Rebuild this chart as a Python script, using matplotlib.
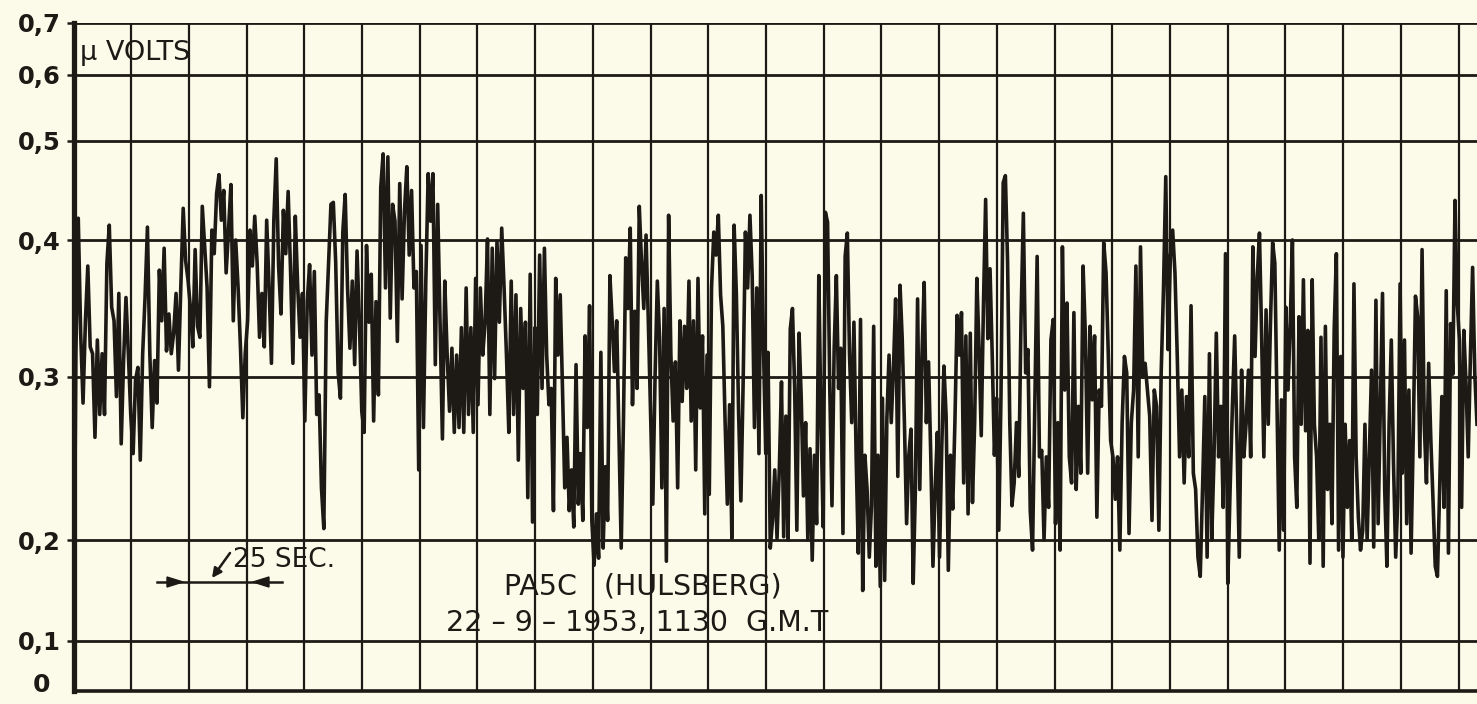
import numpy as np
import matplotlib
matplotlib.use("Agg")
import matplotlib.pyplot as plt
from matplotlib.patches import Polygon

# ---------------- data (µV readings) ----------------
# the recording is split into six consecutive stretches; each stretch covers
# the time span (in grid divisions) given in seg_edges
seg_edges = [0.0, 4.05, 8.16, 12.23, 16.30, 20.36, 24.32]

trace_a = [0.0, 0.317, 0.422, 0.332, 0.284, 0.341, 0.381, 0.322, 0.317, 0.263, 0.327, 0.277, 0.317, 0.277,
           0.383, 0.415, 0.351, 0.341, 0.288, 0.361, 0.259, 0.312, 0.358, 0.317, 0.277, 0.253, 0.298, 0.307,
           0.249, 0.317, 0.358, 0.413, 0.317, 0.269, 0.312, 0.284, 0.378, 0.341, 0.394, 0.319, 0.346, 0.317,
           0.332, 0.361, 0.305, 0.366, 0.432, 0.385, 0.371, 0.351, 0.322, 0.393, 0.337, 0.329, 0.434, 0.395,
           0.366, 0.294, 0.410, 0.390, 0.447, 0.466, 0.420, 0.450, 0.376, 0.410, 0.456, 0.341, 0.400, 0.366,
           0.322, 0.275, 0.317, 0.341, 0.410, 0.381, 0.424, 0.383, 0.329, 0.361, 0.322, 0.420, 0.366, 0.310,
           0.420, 0.482, 0.381, 0.346, 0.430, 0.390, 0.449, 0.378, 0.310, 0.424, 0.366, 0.329, 0.361, 0.273]

trace_b = [0.355, 0.382, 0.316, 0.377, 0.277, 0.289, 0.232, 0.207, 0.340, 0.384, 0.436, 0.438, 0.384, 0.304,
           0.287, 0.408, 0.446, 0.365, 0.321, 0.370, 0.309, 0.392, 0.340, 0.279, 0.266, 0.396, 0.340, 0.375,
           0.273, 0.355, 0.289, 0.453, 0.487, 0.365, 0.484, 0.343, 0.436, 0.419, 0.326, 0.457, 0.357, 0.429,
           0.474, 0.389, 0.450, 0.365, 0.377, 0.243, 0.396, 0.269, 0.370, 0.467, 0.419, 0.467, 0.309, 0.436,
           0.340, 0.262, 0.370, 0.316, 0.279, 0.321, 0.266, 0.316, 0.269, 0.336, 0.266, 0.365, 0.277, 0.336,
           0.266, 0.372, 0.283, 0.365, 0.316, 0.340, 0.401, 0.277, 0.394, 0.299, 0.399, 0.340, 0.412, 0.365,
           0.316, 0.266, 0.370, 0.277, 0.360, 0.249, 0.350, 0.293, 0.340, 0.226, 0.375, 0.211, 0.336, 0.277,
           0.389, 0.293]

trace_c = [0.394, 0.316, 0.283, 0.293, 0.218, 0.372, 0.316, 0.360, 0.293, 0.232, 0.263, 0.218, 0.243, 0.208,
           0.309, 0.222, 0.253, 0.212, 0.330, 0.269, 0.352, 0.212, 0.175, 0.216, 0.182, 0.318, 0.192, 0.245,
           0.212, 0.374, 0.341, 0.304, 0.341, 0.263, 0.192, 0.273, 0.387, 0.350, 0.412, 0.283, 0.348, 0.293,
           0.434, 0.384, 0.350, 0.405, 0.341, 0.277, 0.222, 0.301, 0.370, 0.328, 0.232, 0.350, 0.179, 0.425,
           0.316, 0.273, 0.311, 0.232, 0.341, 0.285, 0.337, 0.293, 0.370, 0.273, 0.341, 0.243, 0.372, 0.281,
           0.330, 0.216, 0.316, 0.228, 0.365, 0.408, 0.389, 0.425, 0.360, 0.337, 0.273, 0.222, 0.283, 0.201,
           0.415, 0.360, 0.277, 0.224, 0.297, 0.408, 0.365, 0.425, 0.374, 0.269, 0.365, 0.253, 0.445, 0.321,
           0.253, 0.318, 0.192, 0.212, 0.243, 0.201]

trace_d = [0.243, 0.297, 0.202, 0.276, 0.200, 0.335, 0.350, 0.293, 0.206, 0.332, 0.287, 0.227, 0.272, 0.200,
           0.256, 0.180, 0.252, 0.210, 0.374, 0.272, 0.208, 0.428, 0.418, 0.293, 0.221, 0.321, 0.374, 0.293,
           0.321, 0.204, 0.388, 0.407, 0.316, 0.272, 0.340, 0.252, 0.187, 0.342, 0.150, 0.252, 0.231, 0.183,
           0.221, 0.337, 0.174, 0.252, 0.154, 0.287, 0.160, 0.274, 0.316, 0.272, 0.306, 0.357, 0.239, 0.367,
           0.328, 0.272, 0.210, 0.252, 0.268, 0.157, 0.231, 0.357, 0.231, 0.316, 0.369, 0.272, 0.311, 0.252,
           0.174, 0.231, 0.266, 0.183, 0.256, 0.308, 0.276, 0.170, 0.252, 0.219, 0.272, 0.345, 0.316, 0.347,
           0.235, 0.330, 0.216, 0.332, 0.223, 0.272, 0.372, 0.321, 0.264, 0.352, 0.441, 0.328, 0.379, 0.316,
           0.252, 0.287, 0.206, 0.289, 0.458, 0.465, 0.384, 0.272, 0.221]

trace_e = [0.235, 0.272, 0.239, 0.344, 0.427, 0.303, 0.320, 0.218, 0.190, 0.282, 0.388, 0.251, 0.255, 0.200,
           0.251, 0.220, 0.327, 0.342, 0.210, 0.272, 0.190, 0.395, 0.292, 0.354, 0.251, 0.235, 0.347, 0.231,
           0.282, 0.241, 0.381, 0.330, 0.241, 0.337, 0.286, 0.330, 0.214, 0.292, 0.282, 0.398, 0.376, 0.315,
           0.261, 0.251, 0.225, 0.251, 0.190, 0.272, 0.315, 0.303, 0.204, 0.272, 0.292, 0.381, 0.251, 0.395,
           0.300, 0.310, 0.292, 0.276, 0.212, 0.292, 0.282, 0.206, 0.303, 0.364, 0.464, 0.320, 0.388, 0.410,
           0.376, 0.315, 0.251, 0.292, 0.235, 0.288, 0.251, 0.352, 0.241, 0.231, 0.183, 0.164, 0.231, 0.288,
           0.183, 0.317, 0.200, 0.251, 0.332, 0.251, 0.282, 0.220, 0.390, 0.157, 0.231, 0.282, 0.330, 0.261,
           0.183, 0.305, 0.251, 0.272]

trace_f = [0.305, 0.251, 0.395, 0.315, 0.373, 0.407, 0.329, 0.251, 0.349, 0.271, 0.339, 0.398, 0.383, 0.282,
           0.190, 0.286, 0.206, 0.351, 0.292, 0.339, 0.400, 0.251, 0.220, 0.344, 0.271, 0.371, 0.267, 0.334,
           0.177, 0.371, 0.271, 0.251, 0.200, 0.329, 0.174, 0.337, 0.231, 0.271, 0.210, 0.334, 0.390, 0.190,
           0.315, 0.183, 0.271, 0.220, 0.261, 0.200, 0.368, 0.251, 0.214, 0.190, 0.206, 0.271, 0.200, 0.251,
           0.305, 0.193, 0.356, 0.210, 0.280, 0.361, 0.231, 0.174, 0.271, 0.327, 0.247, 0.183, 0.227, 0.368,
           0.241, 0.327, 0.210, 0.292, 0.187, 0.265, 0.359, 0.344, 0.251, 0.393, 0.271, 0.235, 0.310, 0.261,
           0.224, 0.174, 0.164, 0.231, 0.288, 0.220, 0.363, 0.187, 0.339, 0.302, 0.440, 0.354, 0.327, 0.220,
           0.334, 0.296, 0.251, 0.315, 0.380, 0.302, 0.271]

y_ticks = [0.0, 0.1, 0.2, 0.3, 0.4, 0.5, 0.6, 0.7]
y_tick_labels = ["0", "0,1", "0,2", "0,3", "0,4", "0,5", "0,6", "0,7"]
# calibration of the (non-linear) µV scale of the recorder paper
scale_marks = [0, 50, 151, 314, 451, 550, 616, 668]

# ---------------- styling ----------------
BG = "#fcfae9"
INK = "#1d1a16"
W, H = 1477, 704

plt.rcParams["font.family"] = ["DejaVu Sans"]

fig = plt.figure(figsize=(W / 100, H / 100), dpi=100, facecolor=BG)
ax = fig.add_axes([73.5 / W, 13 / H, 1 - 73.5 / W, 668 / H])
ax.set_facecolor(BG)


def fwd(v):
    return np.interp(v, y_ticks, scale_marks)


def inv(p):
    return np.interp(p, scale_marks, y_ticks)


ax.set_yscale("function", functions=(fwd, inv))
ax.set_ylim(0, 0.7)
ax.set_xlim(seg_edges[0], seg_edges[-1])

segments = [trace_a, trace_b, trace_c, trace_d, trace_e, trace_f]
xs, ys = [], []
for k, seg in enumerate(segments):
    last = k == len(segments) - 1
    xs.append(np.linspace(seg_edges[k], seg_edges[k + 1], len(seg), endpoint=last))
    ys.append(np.asarray(seg))
x = np.concatenate(xs)
y = np.concatenate(ys)

# grid of the recorder paper
for k in range(1, 25):
    ax.axvline(k, color=INK, lw=1.6, zorder=1)
for v in y_ticks[1:]:
    ax.axhline(v, color=INK, lw=2.0, zorder=1)

ax.plot(x, y, color=INK, lw=2.6, solid_joinstyle="round", zorder=3)

for s in ["top", "right"]:
    ax.spines[s].set_visible(False)
ax.spines["left"].set_linewidth(3.8)
ax.spines["bottom"].set_linewidth(2.6)
ax.spines["left"].set_color(INK)
ax.spines["bottom"].set_color(INK)

ax.set_xticks([])
ax.set_yticks(y_ticks[1:])
ax.set_yticklabels(y_tick_labels[1:], fontsize=17.5, fontweight="bold", color=INK)
ax.tick_params(axis="y", length=5, width=1.8, pad=4, color=INK)
fig.text(41 / W, 1 - 685 / H, y_tick_labels[0], ha="center", va="center",
         fontsize=18, fontweight="bold", color=INK)


def P(px, py):
    return (px / W, 1 - py / H)


fig.text(*P(80, 53), "\u03bc VOLTS", ha="left", va="center", fontsize=19.5, color=INK)

# 25 sec marker
fig.add_artist(plt.Line2D([157 / W, 282 / W], [1 - 582 / H, 1 - 582 / H],
                          transform=fig.transFigure, color=INK, lw=1.8))
fig.add_artist(Polygon([P(183, 582), P(167, 577), P(167, 587)], closed=True,
                       transform=fig.transFigure, color=INK))
fig.add_artist(Polygon([P(253, 582), P(269, 577), P(269, 587)], closed=True,
                       transform=fig.transFigure, color=INK))
fig.text(*P(233, 560), "25 SEC.", ha="left", va="center", fontsize=19, color=INK)
ax.annotate("", xy=P(212, 578), xytext=P(230, 553), xycoords="figure fraction",
            textcoords="figure fraction",
            arrowprops=dict(arrowstyle="-|>", color=INK, lw=1.8, mutation_scale=14,
                            shrinkA=0, shrinkB=0))

fig.text(*P(643, 586), "PA5C   (HULSBERG)", ha="center", va="center", fontsize=20.5, color=INK)
fig.text(*P(637, 623), "22 \u2013 9 \u2013 1953, 1130  G.M.T", ha="center", va="center",
         fontsize=20.5, color=INK)

fig.savefig("out.png", dpi=100, facecolor=BG)
